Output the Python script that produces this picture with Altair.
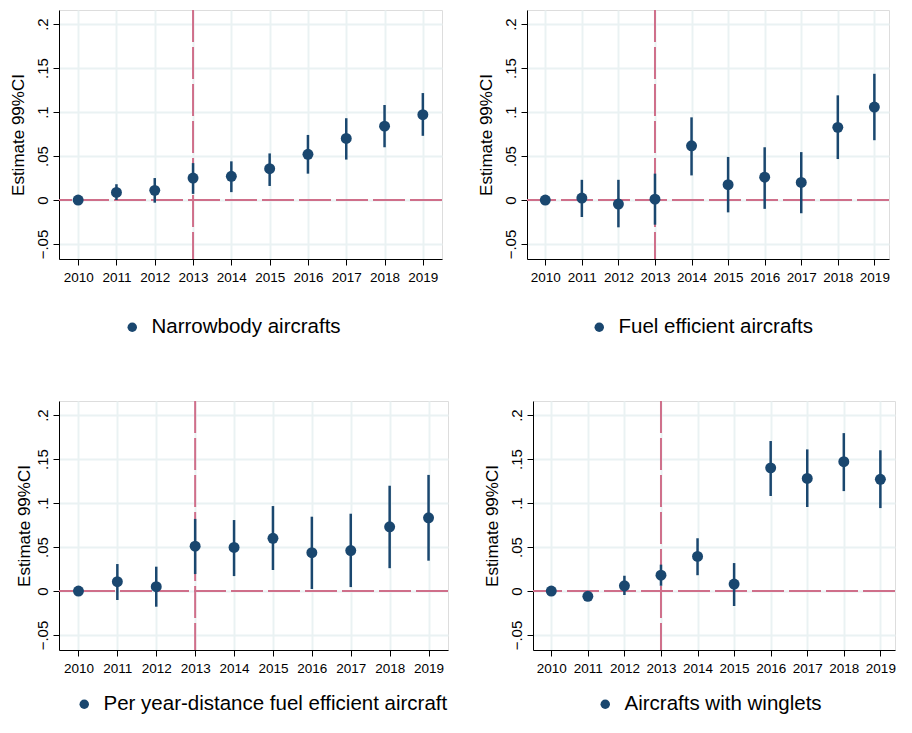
import altair as alt
import pandas as pd

years = list(range(2010, 2020))
y_ticks = [-0.05, 0, 0.05, 0.1, 0.15, 0.2]

label_1 = "Narrowbody aircrafts"
est_1 = [0.0, 0.0087, 0.011, 0.025, 0.027, 0.0356, 0.052, 0.070, 0.084, 0.097]
lo_1 = [0.0, 0.0, -0.003, 0.007, 0.009, 0.016, 0.030, 0.046, 0.060, 0.073]
hi_1 = [0.0, 0.018, 0.025, 0.042, 0.044, 0.053, 0.074, 0.093, 0.108, 0.1216]

label_2 = "Fuel efficient aircrafts"
est_2 = [0.0, 0.0023, -0.0045, 0.001, 0.0617, 0.0174, 0.026, 0.020, 0.0826, 0.1057]
lo_2 = [0.0, -0.0193, -0.031, -0.028, 0.028, -0.014, -0.010, -0.015, 0.0466, 0.068]
hi_2 = [0.0, 0.023, 0.023, 0.030, 0.094, 0.049, 0.060, 0.0545, 0.119, 0.1435]

label_3 = "Per year-distance fuel efficient aircraft"
est_3 = [0.0, 0.0106, 0.0049, 0.051, 0.0496, 0.060, 0.0436, 0.046, 0.073, 0.0833]
lo_3 = [0.0, -0.0102, -0.0178, 0.0193, 0.017, 0.0239, 0.0023, 0.0045, 0.026, 0.0345]
hi_3 = [0.0, 0.0307, 0.0277, 0.082, 0.0807, 0.0966, 0.0845, 0.0879, 0.1197, 0.132]

label_4 = "Aircrafts with winglets"
est_4 = [0.0, -0.006, 0.006, 0.018, 0.0394, 0.008, 0.140, 0.128, 0.147, 0.127]
lo_4 = [0.0, -0.009, -0.0045, 0.006, 0.018, -0.017, 0.108, 0.0955, 0.1136, 0.0943]
hi_4 = [0.0, -0.003, 0.0174, 0.030, 0.060, 0.0318, 0.1705, 0.161, 0.1795, 0.160]

NAVY = "#1a476f"
PINK = "#cf6f8a"
GRID = "#eaf2f3"
FONT = "Liberation Sans"


def panel(label, est, lo, hi, width, xmax, lx, ly, tpad):
    df = pd.DataFrame({"year": years, "est": est, "lo": lo, "hi": hi,
                       "series": [label] * len(years)})
    ref = pd.DataFrame({"v": [0]})
    xs = alt.Scale(domain=[2009.5, xmax], nice=False, zero=False)
    ys = alt.Scale(domain=[-0.067, 0.216], nice=False, zero=False)
    x_axis = alt.Axis(values=years, format="d", title=None, labelFontSize=13.5,
                      labelFont=FONT, labelColor="black", tickColor="black",
                      tickSize=6, domainColor="black", labelPadding=5,
                      grid=True, gridColor=GRID, gridWidth=2,
                      labelOverlap=False, labelSeparation=0)
    y_axis = alt.Axis(values=y_ticks,
                      labelExpr="replace(format(datum.value, '~g'), '0.', '.')",
                      title="Estimate 99%CI", titleFontSize=17, titleFont=FONT,
                      titleFontWeight="normal", titleColor="black", titlePadding=tpad,
                      labelAngle=-90, labelAlign="center", labelBaseline="bottom",
                      labelFontSize=15, labelFont=FONT, labelColor="black",
                      tickColor="black", tickSize=6, domainColor="black",
                      labelPadding=3, grid=True, gridColor=GRID, gridWidth=2)

    ci = alt.Chart(df).mark_rule(color=NAVY, strokeWidth=2.5).encode(
        x=alt.X("year:Q", scale=xs, axis=x_axis),
        y=alt.Y("lo:Q", scale=ys, axis=y_axis),
        y2="hi:Q",
    )
    hline = alt.Chart(ref).mark_rule(color=PINK, strokeWidth=2, strokeDash=[32, 5]).encode(
        y=alt.datum(0)
    )
    vline = alt.Chart(ref).mark_rule(color=PINK, strokeWidth=2, strokeDash=[32, 5]).encode(
        x=alt.datum(2013)
    )
    pts = alt.Chart(df).mark_circle(size=120, opacity=1).encode(
        x="year:Q",
        y="est:Q",
        color=alt.Color("series:N", scale=alt.Scale(range=[NAVY]),
                        legend=alt.Legend(title=None, orient="none", legendX=lx, legendY=ly,
                                          labelFont=FONT, labelFontSize=20.5,
                                          labelColor="black", symbolType="circle",
                                          symbolSize=90, symbolOpacity=1,
                                          symbolStrokeWidth=0, padding=0,
                                          labelOffset=9, labelLimit=0)),
    )
    return alt.layer(hline, vline, ci, pts).properties(width=width, height=249)


p1 = panel(label_1, est_1, lo_1, hi_1, 383, 2019.5, 63, 307, 8)
p2 = panel(label_2, est_2, lo_2, hi_2, 362, 2019.4, 62, 307, 8)
p3 = panel(label_3, est_3, lo_3, hi_3, 389, 2019.5, 15, 293, 2)
p4 = panel(label_4, est_4, lo_4, hi_4, 362, 2019.4, 62, 293, 8)

row1 = alt.hconcat(p1, p2, spacing=32).resolve_scale(color="independent").resolve_legend(color="independent")
row2 = alt.hconcat(p3, p4, spacing=32).resolve_scale(color="independent").resolve_legend(color="independent")

chart = alt.vconcat(row1, row2, spacing=60).resolve_scale(
    color="independent").resolve_legend(color="independent").properties(
    padding=0).configure_view(stroke=None).configure(background="white")

chart.save("out.html", embed_options={"renderer": "svg", "actions": False})
